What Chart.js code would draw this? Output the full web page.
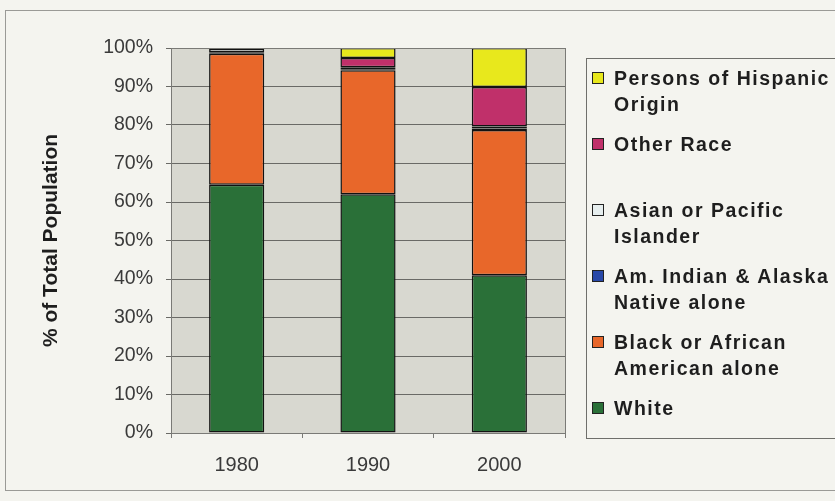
<!DOCTYPE html>
<html><head><meta charset="utf-8">
<script src="https://cdn.jsdelivr.net/npm/chart.js@4"></script>
<style>
html,body{margin:0;padding:0;background:#f4f4ef;}
#wrap{position:relative;width:835px;height:501px;overflow:hidden;background:#f4f4ef;}
#frame{position:absolute;left:5px;top:10px;width:850px;height:479px;border:1px solid #9a9a96;}
#cv{position:absolute;left:0;top:0;}
#legend{position:absolute;left:586px;top:58px;width:300px;height:381px;border:1px solid #6f6f6b;box-sizing:border-box;font-family:"Liberation Sans",Arial,sans-serif;font-weight:bold;font-size:19.5px;color:#1e1e1e;letter-spacing:1.5px;}
.item{position:absolute;left:0;height:66px;}
.sw{position:absolute;left:5px;top:7px;width:10px;height:10px;border:1.5px solid #222;}
.tx{position:absolute;left:27px;top:0;line-height:26px;width:300px;white-space:nowrap;}
</style></head>
<body><div id="wrap"><div id="frame"></div><canvas id="cv" width="835" height="501"></canvas><div id="legend"></div></div>
<script>
const categories = ["1980","1990","2000"];
const white      = [64.5, 62.0, 41.0];
const black      = [34.0, 32.2, 37.7];
const amIndian   = [0.4, 0.3, 0.4];
const asian      = [0.9, 0.5, 0.5];
const otherRace  = [0.1, 2.4, 10.3];
const hispanic   = [0.1, 2.6, 10.1];
const yTicks = [0,10,20,30,40,50,60,70,80,90,100];

const series = [
  {label:"White", lines:["White"], data:white, color:"#2a7038"},
  {label:"Black or African American alone", lines:["Black or African","American alone"], data:black, color:"#e8672a"},
  {label:"Am. Indian & Alaska Native alone", lines:["Am. Indian & Alaska","Native alone"], data:amIndian, color:"#2848a8"},
  {label:"Asian or Pacific Islander", lines:["Asian or Pacific","Islander"], data:asian, color:"#e6eeee"},
  {label:"Other Race", lines:["Other Race"], data:otherRace, color:"#c0306a"},
  {label:"Persons of Hispanic Origin", lines:["Persons of Hispanic","Origin"], data:hispanic, color:"#e8e81c"}
];

const FONT = '"Liberation Sans", Arial, sans-serif';

const plotBg = {
  id:'plotBg',
  beforeDraw(chart){
    const {ctx, chartArea:a} = chart;
    ctx.save(); ctx.fillStyle='#d8d8d0'; ctx.fillRect(a.left,a.top,a.right-a.left,a.bottom-a.top);
    ctx.restore();
  },
  afterDatasetsDraw(chart){
    const {ctx, chartArea:a} = chart;
    ctx.save(); ctx.strokeStyle='#7a7a76'; ctx.lineWidth=1;
    ctx.strokeRect(Math.round(a.left)+0.5, Math.round(a.top)+0.5, Math.round(a.right-a.left), Math.round(a.bottom-a.top));
    ctx.restore();
  }
};

new Chart(document.getElementById('cv'), {
  type:'bar',
  data:{labels:categories, datasets:series.map(s=>({label:s.label,data:s.data,backgroundColor:s.color,borderColor:'#121212',borderWidth:1.5,borderSkipped:false,barPercentage:0.42,categoryPercentage:1}))},
  options:{
    responsive:false, animation:false,
    layout:{padding:{left:36,top:48,right:270,bottom:0}},
    plugins:{legend:{display:false},tooltip:{enabled:false}},
    scales:{
      x:{stacked:true,
        grid:{display:true,drawOnChartArea:false,color:'#7a7a76',tickLength:5,offset:true},
        border:{color:'#5a5a56'},
        ticks:{color:'#3a3a3a',font:{family:FONT,size:20},padding:15},
        afterFit(s){s.height=68;}
      },
      y:{stacked:true,min:0,max:100,
        afterBuildTicks(s){s.ticks=yTicks.map(v=>({value:v}));},
        grid:{color:'#6a6a66',tickLength:5,lineWidth:1},
        border:{color:'#5a5a56'},
        ticks:{color:'#3a3a3a',font:{family:FONT,size:19.5},padding:13,callback:v=>v+'%'},
        title:{display:true,text:'% of Total Population',color:'#1e1e1e',font:{family:FONT,size:21,weight:'bold'},padding:3},
        afterFit(s){s.width=171-36;}
      }
    }
  },
  plugins:[plotBg]
});

const lg=document.getElementById('legend');
series.slice().reverse().forEach((s,i)=>{
  const d=document.createElement('div'); d.className='item'; d.style.top=(6+i*66)+'px';
  d.innerHTML='<div class="sw" style="background:'+s.color+'"></div><div class="tx">'+s.lines.join('<br>')+'</div>';
  lg.appendChild(d);
});
</script></body></html>
